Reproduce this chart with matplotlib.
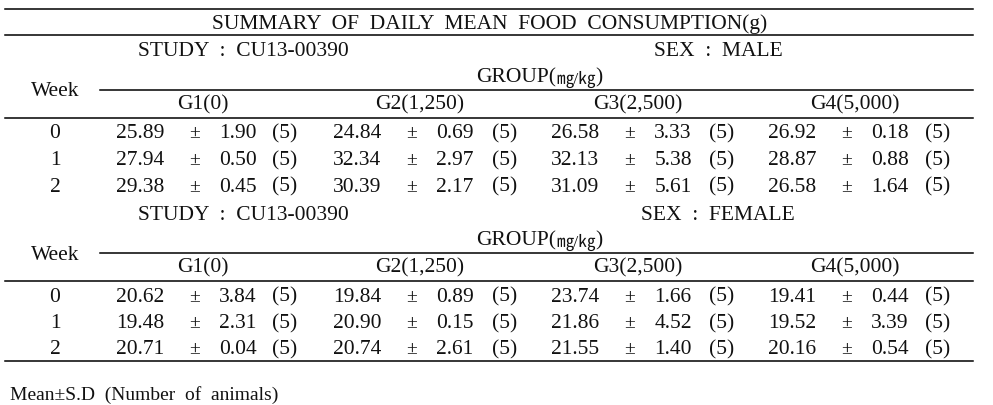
import matplotlib.pyplot as plt

# Data
weeks = ['0', '1', '2']
groups = ['G1(0)', 'G2(1,250)', 'G3(2,500)', 'G4(5,000)']
study = 'STUDY  :  CU13-00390'
title = 'SUMMARY  OF  DAILY  MEAN  FOOD  CONSUMPTION(g)'

male_mean = [[25.89, 24.84, 26.58, 26.92],
             [27.94, 32.34, 32.13, 28.87],
             [29.38, 30.39, 31.09, 26.58]]
male_sd = [[1.90, 0.69, 3.33, 0.18],
           [0.50, 2.97, 5.38, 0.88],
           [0.45, 2.17, 5.61, 1.64]]
female_mean = [[20.62, 19.84, 23.74, 19.41],
               [19.48, 20.90, 21.86, 19.52],
               [20.71, 20.74, 21.55, 20.16]]
female_sd = [[3.84, 0.89, 1.66, 0.44],
             [2.31, 0.15, 4.52, 3.39],
             [0.04, 2.61, 1.40, 0.54]]
n_animals = 5

plt.rcParams['font.family'] = ['Liberation Serif', 'Noto Sans CJK KR']

fig = plt.figure(figsize=(9.93, 4.05), dpi=100)
ax = fig.add_axes([0, 0, 1, 1])
ax.set_xlim(0, 993)
ax.set_ylim(405, 0)
ax.axis('off')

fs = 15.5
col = '#111111'
grp_x = [203, 420, 638, 855]
mean_x = [140, 357, 575, 792]
pm_x = [195, 412, 630, 847]
sd_x = [238, 455, 673, 890]
n_x = [285, 505, 722, 938]


def txt(x, y, s, ha='center', size=fs):
    # small downward nudge so glyphs sit like the reference
    ax.text(x, y + 2, s, ha=ha, va='center', fontsize=size, color=col)


def hline(y, x0=5, x1=973):
    ax.plot([x0, x1], [y, y], color='black', lw=1.1)


hline(9)
txt(490, 22, title)
hline(35)


def block(top, sex, means, sds):
    txt(243, top + 15, study)
    txt(718, top + 15, sex)
    ax.text(556, top + 43, 'GROUP(', ha='right', va='center', fontsize=fs, color=col)
    ax.text(556, top + 44, '㎎/㎏', ha='left', va='center', fontsize=fs - 3, color=col)
    ax.text(595, top + 43, ')', ha='left', va='center', fontsize=fs, color=col)
    txt(55, top + 55, 'Week')
    hline(top + 55, 100)
    for g, x in zip(groups, grp_x):
        txt(x, top + 68, g)
    hline(top + 83)
    for i, w in enumerate(weeks):
        y = top + 97 + i * 26.5
        txt(55, y, w)
        for j in range(4):
            txt(mean_x[j], y, f'{means[i][j]:.2f}')
            txt(pm_x[j], y, '±', size=fs - 1.5)
            txt(sd_x[j], y, f'{sds[i][j]:.2f}')
            txt(n_x[j], y, f'({n_animals})')


block(35, 'SEX  :  MALE', male_mean, male_sd)
block(198, 'SEX  :  FEMALE', female_mean, female_sd)
hline(361)
txt(10, 393, 'Mean±S.D  (Number  of  animals)', ha='left', size=14)

fig.savefig('out.png', dpi=100)
